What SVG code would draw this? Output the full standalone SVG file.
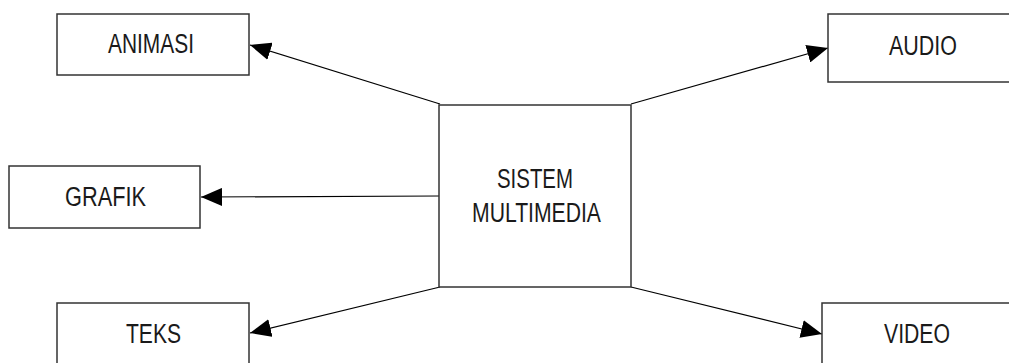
<svg xmlns="http://www.w3.org/2000/svg" width="1009" height="363" viewBox="0 0 1009 363">
<style>
.box{fill:#fff;stroke:#333;stroke-width:1.5}
.lbl{font-family:"Liberation Sans",Arial,sans-serif;font-size:27px;fill:#1a1a1a}
.con{stroke:#000;stroke-width:1.2;fill:none;marker-end:url(#ah)}
</style>
<defs>
<marker id="ah" markerUnits="userSpaceOnUse" markerWidth="22" markerHeight="18" refX="21" refY="9" orient="auto">
<path d="M0,0 L21,9 L0,18 Z" fill="#000"/>
</marker>
</defs>
<rect width="1009" height="363" fill="#fff"/>
<g id="connectors">
<line class="con" x1="440" y1="104" x2="250" y2="45"/>
<line class="con" x1="631" y1="104" x2="828" y2="48"/>
<line class="con" x1="439" y1="196" x2="201" y2="197"/>
<line class="con" x1="440" y1="287" x2="250" y2="333"/>
<line class="con" x1="631" y1="287" x2="822" y2="334"/>
</g>
<g id="animasi">
<rect class="box" x="57" y="14" width="192" height="61"/>
<text class="lbl" x="108" y="53" textLength="86" lengthAdjust="spacingAndGlyphs">ANIMASI</text>
</g>
<g id="audio">
<rect class="box" x="828" y="14" width="200" height="68"/>
<text class="lbl" x="889" y="55" textLength="68" lengthAdjust="spacingAndGlyphs">AUDIO</text>
</g>
<g id="grafik">
<rect class="box" x="9" y="166" width="191" height="62"/>
<text class="lbl" x="65" y="206" textLength="81" lengthAdjust="spacingAndGlyphs">GRAFIK</text>
</g>
<g id="sistem-multimedia">
<rect class="box" x="439" y="105" width="192" height="182"/>
<text class="lbl" x="497" y="188" textLength="76" lengthAdjust="spacingAndGlyphs">SISTEM</text>
<text class="lbl" x="472" y="222" textLength="129" lengthAdjust="spacingAndGlyphs">MULTIMEDIA</text>
</g>
<g id="teks">
<rect class="box" x="57" y="303" width="192" height="80"/>
<text class="lbl" x="126" y="343" textLength="55" lengthAdjust="spacingAndGlyphs">TEKS</text>
</g>
<g id="video">
<rect class="box" x="822" y="303" width="200" height="80"/>
<text class="lbl" x="884" y="343" textLength="66" lengthAdjust="spacingAndGlyphs">VIDEO</text>
</g>
</svg>
